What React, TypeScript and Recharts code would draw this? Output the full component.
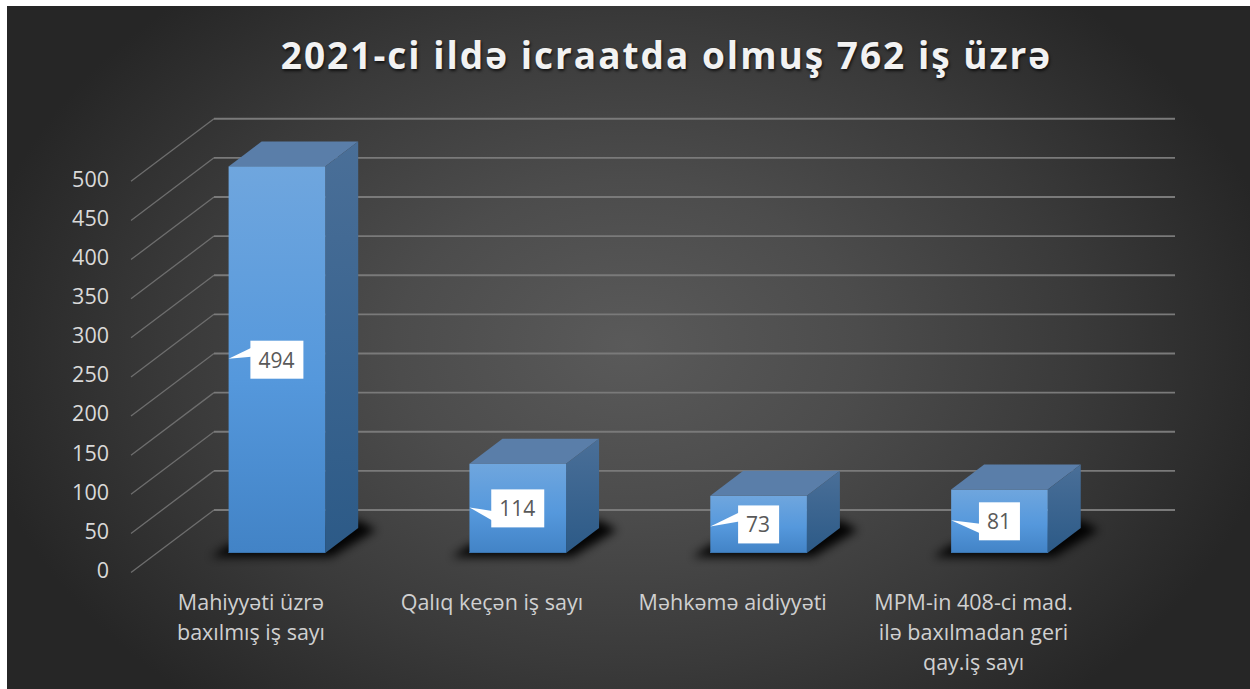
import React from "react";
import { BarChart, Bar, XAxis, YAxis, CartesianGrid, LabelList } from "recharts";

const categories = [
  "Mahiyyəti üzrə\nbaxılmış iş sayı",
  "Qalıq keçən iş sayı",
  "Məhkəmə aidiyyəti",
  "MPM-in 408-ci mad.\nilə baxılmadan geri\nqay.iş sayı",
];
const values = [494, 114, 73, 81];
const yTicks = [0, 50, 100, 150, 200, 250, 300, 350, 400, 450, 500];
const title = "2021-ci ildə icraatda olmuş 762 iş üzrə";
const data = categories.map((name, i) => ({ name, value: values[i] }));

const DX = 33;
const DY = -25;

const Box3D = (props: any) => {
  const { x, y, width, height } = props;
  const r = x + width;
  const b = y + height;
  return (
    <g>
      <polygon
        points={`${x - 18},${b + 4} ${r + 6},${b + 4} ${r + DX + 18},${b + DY + 2} ${r + DX},${b + DY - 8} ${x},${b - 8}`}
        fill="#000"
        opacity={0.95}
        filter="url(#shadowBlur)"
      />
      <polygon points={`${x},${y} ${x + DX},${y + DY} ${r + DX},${y + DY} ${r},${y}`} fill="#5A7EA9" />
      <polygon points={`${r},${y} ${r + DX},${y + DY} ${r + DX},${b + DY} ${r},${b}`} fill="url(#sideGrad)" />
      <rect x={x} y={y} width={width} height={height} fill="url(#faceGrad)" />
      <line x1={x} x2={r} y1={b - 0.5} y2={b - 0.5} stroke="#3A74AE" strokeWidth={1} />
    </g>
  );
};

const Callout = (props: any) => {
  const { x, y, width, height, value, index } = props;
  const cx = x + width / 2;
  const cy = y + height / 2;
  const w = String(value).length === 3 ? 53 : 41;
  const left = cx - w / 2;
  const top = cy - 19;
  const upper = index === 0 || index === 2;
  const tailA = upper ? 7 : 21.5;
  const tailB = upper ? 16 : 31;
  return (
    <g>
      <polygon points={`${x},${cy - 1 + (index === 2 ? 3 : 0)} ${left + 1},${top + tailA} ${left + 1},${top + tailB}`} fill="#fff" />
      <rect x={left} y={top} width={w} height={38} fill="#fff" />
      <text x={cx - 0.5} y={cy + 8} textAnchor="middle" fontSize={21} fontFamily="'Open Sans'" fill="#595959">
        {value}
      </text>
    </g>
  );
};

const GridLine = (props: any) => {
  const { y1 } = props;
  return (
    <g>
      <line x1={131} y1={y1 + 19.6} x2={214} y2={y1 - 43} stroke="#6E6E6E" strokeWidth={1.3} />
      <line x1={214} y1={y1 - 43} x2={1175} y2={y1 - 43} stroke="#7A7A7A" strokeWidth={1.9} />
    </g>
  );
};

const YTick = (props: any) => {
  const { y, payload } = props;
  return (
    <text x={109} y={y + 25} textAnchor="end" fontSize={21.5} fontFamily="'Open Sans'" fill="#D9D9D9">
      {payload.value}
    </text>
  );
};

const XTick = (props: any) => {
  const { x, payload } = props;
  const lines = String(payload.value).split("\n");
  return (
    <text textAnchor="middle" fontSize={21.5} fontFamily="'Open Sans'" fill="#D0D0D0">
      {lines.map((l, i) => (
        <tspan key={i} x={x - 26} y={610 + i * 30}>
          {l}
        </tspan>
      ))}
    </text>
  );
};

export default function App() {
  return (
    <div style={{ position: "absolute", left: 0, top: 0, width: 1250, height: 689, background: "#fff", overflow: "hidden" }}>
      <div
        style={{
          position: "absolute",
          left: 7,
          top: 6,
          width: 1243,
          height: 683,
          background: "radial-gradient(ellipse 660px 470px at 621px 339px, #5A5A5A 0%, #4C4C4C 35%, #3A3A3A 68%, #262626 100%)",
        }}
      />
      <div
        style={{
          position: "absolute",
          left: 0,
          width: 1333,
          top: 30,
          textAlign: "center",
          fontFamily: "'Open Sans'",
          fontWeight: 700,
          fontSize: 37,
          lineHeight: "50px",
          letterSpacing: 2,
          color: "#F2F2F2",
          textShadow: "1px 2px 3px rgba(0,0,0,0.7)",
          whiteSpace: "nowrap",
        }}
      >
        {title}
      </div>
      <div style={{ position: "absolute", left: 0, top: 0 }}>
        <BarChart
          width={1250}
          height={689}
          data={data}
          margin={{ top: 161.7, bottom: 0, left: 0, right: 130 }}
        >
          <defs>
            <linearGradient id="faceGrad" x1="0" y1="0" x2="0" y2="1">
              <stop offset="0%" stopColor="#6FA6DE" />
              <stop offset="55%" stopColor="#5598DC" />
              <stop offset="100%" stopColor="#4283C6" />
            </linearGradient>
            <linearGradient id="sideGrad" x1="0" y1="0" x2="0" y2="1">
              <stop offset="0%" stopColor="#4A6F98" />
              <stop offset="100%" stopColor="#2C5A87" />
            </linearGradient>
            <filter id="shadowBlur" x="-40%" y="-100%" width="180%" height="300%">
              <feGaussianBlur stdDeviation="5" />
            </filter>
          </defs>
          <CartesianGrid vertical={false} horizontal={GridLine as any} syncWithTicks />
          <XAxis dataKey="name" axisLine={false} tickLine={false} tick={XTick as any} interval={0} height={136} />
          <YAxis
            width={156.6}
            domain={[0, 500]}
            ticks={yTicks}
            axisLine={false}
            tickLine={false}
            tick={YTick as any}
            interval={0}
          />
          <Bar dataKey="value" isAnimationActive={false} barSize={96.6} shape={Box3D as any}>
            <LabelList dataKey="value" content={Callout as any} />
          </Bar>
        </BarChart>
      </div>
    </div>
  );
}
